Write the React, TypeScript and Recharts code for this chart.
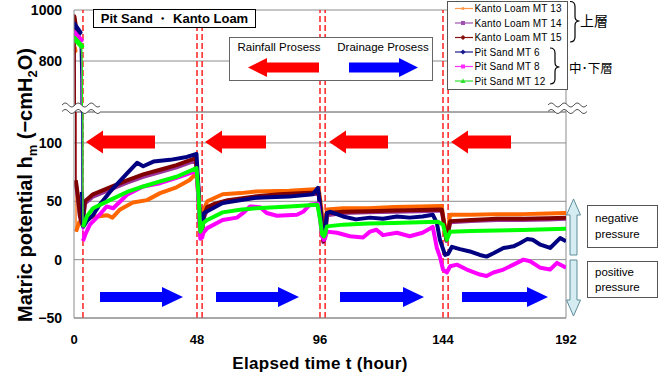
import React from 'react';
import { LineChart, Line, XAxis, YAxis, CartesianGrid, ReferenceLine } from 'recharts';

type Pt = [number, number];

const timeTicks = [0, 48, 96, 144, 192];
const upperTicks = [800, 1000];
const lowerTicks = [-50, 0, 50, 100];
const boundaryTimes = [3.5, 48, 50, 96, 98, 144, 146];

const seriesNames = ['Kanto Loam MT 13', 'Kanto Loam MT 14', 'Kanto Loam MT 15', 'Pit Sand MT 6', 'Pit Sand MT 8', 'Pit Sand MT 12'];
const seriesColors = ['#FF6600', '#993399', '#800000', '#000080', '#FF00FF', '#00FF00'];
const legendColors = ['#FF9A4D', '#A050B0', '#8B1010', '#1A1A90', '#FF30FF', '#30E030'];

const mt13: Pt[] = [[0,855],[0.4,840],[0.8,24],[2,32],[3.5,34],[5,36],[9,37],[13,38],[15,36],[18,43],[23,49],[28.5,51],[33.6,57],[40,62],[45,68],[47.8,74],[48.6,52],[49.3,27],[50,30],[50.5,42],[52,50],[58,56],[65,57],[71,58.4],[84,59],[95.5,60.5],[96.5,44],[97.3,22],[98,24],[98.7,43],[105,44],[115,44],[125,45],[135,45.5],[143.5,46],[144.5,30],[145.3,23],[146,28],[146.8,38.5],[155,38.5],[165,39],[175,39],[185,39.5],[192,40]];
const mt14: Pt[] = [[0,962],[0.4,935],[0.7,66],[1.5,53],[2.3,37],[3.1,30],[3.6,35],[4.3,48],[7.4,54],[14,60],[20.7,66],[27,71],[33.6,75],[40,79],[47.5,85],[48.5,60],[49.3,21],[50,24],[50.7,36],[52,43],[55,47],[60,50],[70,53],[80,55],[90,56],[95.5,56.5],[96.5,38],[97.3,15],[98,19],[98.7,38],[105,40],[115,40.5],[125,41],[135,41.5],[143.5,42],[144.5,29],[145.3,16],[146,23],[146.8,32],[155,33],[165,34],[175,34],[185,34.5],[192,35]];
const mt15: Pt[] = [[0,973],[0.4,945],[0.7,68],[1.5,55],[2.3,38],[3.1,31],[3.6,36],[4.3,50],[7.4,56],[14,62],[20.7,68],[27,73],[33.6,77],[40,81],[47.5,87],[48.5,62],[49.3,22],[50,25],[50.7,38],[52,45],[55,48],[60,51],[70,54],[80,56],[90,57],[95.5,57.5],[96.5,40],[97.3,16],[98,20],[98.7,40],[105,41],[115,41.5],[125,42],[135,42.5],[143.5,43],[144.5,30],[145.3,17],[146,24],[146.8,33],[155,34],[165,35],[175,35],[185,35.5],[192,36]];
const mt6: Pt[] = [[0,945],[2.3,912],[2.7,730],[3.1,58],[3.6,28],[5,33],[7.4,38],[10,47],[14,58],[20.7,74],[24.6,83],[27,80],[31,84],[37.5,85.5],[44,88],[47.8,90.5],[48.6,60],[49.3,24],[50,28],[50.7,40],[52,41.5],[58,48.5],[71,53],[84,54],[93.2,56],[95.2,61.5],[96,45],[96.8,22],[97.3,18],[98,25],[98.7,40],[100,41],[105,37],[110,34.5],[115.5,36],[120.6,35],[126,37],[131,36],[136,37],[140,38.5],[141.6,31.5],[142.8,17],[144.8,4],[146,5],[147.5,11],[150.6,9],[154.5,7],[158.4,4],[161,2.6],[163.7,5.5],[167.6,10],[171.5,11.4],[174,14],[176.8,17.6],[179,17],[182,12.8],[185.8,10],[189.7,18.5],[192,15.7]];
const mt8: Pt[] = [[0,912],[2.8,882],[3.0,812],[3.5,16],[4.5,22],[6.2,30],[10,38.5],[12.7,45.6],[15.3,44],[20.7,55.6],[27,62.7],[33.6,65.5],[40,70],[47.8,76],[48.6,50],[49.3,18],[50,19],[50.5,23],[52,27],[58,34],[63.6,36],[66,40],[68.7,45.6],[72.6,45],[75.2,40],[79.2,37.6],[87,38.5],[89.4,41],[92,47],[95.2,48],[96,35],[96.8,20],[97.5,17],[98,19],[98.7,24],[102.6,23],[107.7,20],[112.8,19],[115.5,24],[118,25.6],[120.6,21],[126,23],[131,20],[136,23],[140,28],[141.6,10],[142.8,2.6],[144,-8.5],[145.5,-11],[146.8,-5.7],[149.4,-4.3],[153.3,-8.5],[158.4,-12.8],[161,-14],[163.7,-11],[167.6,-8.5],[171.5,-4.3],[175.4,0],[178,-1.4],[182,-7],[185.8,-8.5],[188.5,-2.8],[191,-5.7],[192,-7]];
const mt12: Pt[] = [[0,890],[3.0,858],[3.2,784],[3.5,28],[5,37],[7.4,44],[14,51],[20.7,58],[27,62.7],[33.6,67],[40,71],[47.8,78.4],[48.6,55],[49.3,24],[50,27],[50.5,31.6],[52,34],[58,40.5],[64.8,42.7],[71,44],[84,45.6],[95,47],[96,35],[96.8,22],[97.5,20],[98,22],[98.7,28.5],[105,30],[115,31],[125,31.5],[135,32],[142,32.5],[144,30],[145.5,17],[146.8,24],[155,24.5],[165,25],[175,25.5],[185,26],[192,26.5]];

const seriesPoints = [mt13, mt14, mt15, mt6, mt8, mt12];
const toRows = (pts: Pt[]) => pts.map(([t, v]) => ({ t, v }));
const series = seriesPoints.map((pts, i) => ({
  name: seriesNames[i],
  color: seriesColors[i],
  data: toRows(pts),
  // dense-marker bands: the in-range low part and the initial high cluster
  low: toRows(pts.filter(([, v]) => v < 130)),
  high: toRows(pts.filter(([, v]) => v >= 840)),
}));

const FONT = '"Liberation Sans", Arial, Helvetica, sans-serif';
const CJK = '"Noto Sans CJK JP", "Noto Sans", sans-serif';
const GRID = '#8C8C8C';

const tickStyle = { fill: '#000', fontSize: 14, fontWeight: 'bold' as const, fontFamily: FONT };

function lines() {
  const out: React.ReactNode[] = [];
  series.forEach((s) => {
    out.push(
      <Line key={s.name + '-thin'} data={s.data} dataKey="v" type="linear" stroke={s.color} strokeWidth={1.3}
        dot={false} activeDot={false} isAnimationActive={false} />
    );
    out.push(
      <Line key={s.name + '-low'} data={s.low} dataKey="v" name={s.name} type="linear" stroke={s.color} strokeWidth={4}
        strokeLinejoin="round" dot={false} activeDot={false} isAnimationActive={false} />
    );
    out.push(
      <Line key={s.name + '-high'} data={s.high} dataKey="v" type="linear" stroke={s.color} strokeWidth={5}
        strokeLinejoin="round" strokeLinecap="round" dot={false} activeDot={false} isAnimationActive={false} />
    );
  });
  return out;
}

function refLines() {
  return [
    ...boundaryTimes.map((t) => (
      <ReferenceLine key={'b' + t} x={t} stroke="#FF2020" strokeDasharray="6 3" strokeWidth={1.5} />
    )),
    <ReferenceLine key="right" x={192} stroke={GRID} strokeWidth={1} />,
  ];
}

function hArrow(x1: number, x2: number, cy: number, s: number, h: number, hl: number, dir: 'left' | 'right') {
  if (dir === 'right') {
    return [
      [x1, cy - s / 2], [x2 - hl, cy - s / 2], [x2 - hl, cy - h / 2], [x2, cy],
      [x2 - hl, cy + h / 2], [x2 - hl, cy + s / 2], [x1, cy + s / 2],
    ].map((p) => p.join(',')).join(' ');
  }
  return [
    [x2, cy - s / 2], [x1 + hl, cy - s / 2], [x1 + hl, cy - h / 2], [x1, cy],
    [x1 + hl, cy + h / 2], [x1 + hl, cy + s / 2], [x2, cy + s / 2],
  ].map((p) => p.join(',')).join(' ');
}

function vArrow(cx: number, y1: number, y2: number, s: number, w: number, hl: number, dir: 'up' | 'down') {
  const pts = dir === 'up'
    ? [[cx, y1], [cx + w / 2, y1 + hl], [cx + s / 2, y1 + hl], [cx + s / 2, y2], [cx - s / 2, y2], [cx - s / 2, y1 + hl], [cx - w / 2, y1 + hl]]
    : [[cx, y2], [cx + w / 2, y2 - hl], [cx + s / 2, y2 - hl], [cx + s / 2, y1], [cx - s / 2, y1], [cx - s / 2, y2 - hl], [cx - w / 2, y2 - hl]];
  return pts.map((p) => p.join(',')).join(' ');
}

function wavePts(x0: number, x1: number, y: number, amp: number, period: number) {
  const out: string[] = [];
  for (let x = x0; x <= x1; x += 1) {
    out.push(`${x},${(y - amp * Math.sin((2 * Math.PI * (x - x0)) / period)).toFixed(2)}`);
  }
  return out;
}

function BreakMark({ x0, x1 }: { x0: number; x1: number }) {
  const top = wavePts(x0, x1, 105, 2, 13);
  const bot = wavePts(x0, x1, 111.5, 2, 13);
  return (
    <g>
      <polygon points={[...top, ...bot.slice().reverse()].join(' ')} fill="#fff" />
      <polyline points={top.join(' ')} fill="none" stroke="#555" strokeWidth={1} />
      <polyline points={bot.join(' ')} fill="none" stroke="#555" strokeWidth={1} />
    </g>
  );
}

const legendRows = [8.5, 23, 37.5, 52, 66.5, 81];

function LegendMarker({ i, x, y }: { i: number; x: number; y: number }) {
  const c = legendColors[i];
  if (i === 0) return <circle cx={x} cy={y} r={1.6} fill={c} />;
  if (i === 1 || i === 4) return <rect x={x - 2} y={y - 2} width={4} height={4} fill={c} />;
  if (i === 2 || i === 3) return <polygon points={`${x},${y - 2.6} ${x + 2.6},${y} ${x},${y + 2.6} ${x - 2.6},${y}`} fill={c} />;
  return <polygon points={`${x},${y - 2.6} ${x + 2.6},${y + 2} ${x - 2.6},${y + 2}`} fill={c} />;
}

function Overlay() {
  const redArrows: [number, number][] = [[86, 155], [205, 266], [329, 388], [451, 511]];
  const blueArrows: [number, number][] = [[100, 183], [216, 299], [340, 424], [462, 548]];
  return (
    <svg width={664} height={378} style={{ position: 'absolute', left: 0, top: 0, pointerEvents: 'none' }}>
      <BreakMark x0={62} x1={100} />
      <BreakMark x0={548} x1={587} />

      {redArrows.map(([a, b]) => (
        <polygon key={'r' + a} points={hArrow(a, b, 142, 13, 23, 17, 'left')} fill="#FF0000" />
      ))}
      {blueArrows.map(([a, b]) => (
        <polygon key={'bl' + a} points={hArrow(a, b, 297, 10, 20, 21, 'right')} fill="#0000FF" />
      ))}

      {/* title box */}
      <rect x={93.5} y={9.5} width={162} height={18} fill="#fff" stroke="#000" strokeWidth={1} />
      <text x={174.5} y={23} textAnchor="middle" fontFamily={FONT} fontSize={13} fontWeight="bold" fill="#000">
        Pit Sand ・ Kanto Loam
      </text>

      {/* process box */}
      <rect x={229.5} y={37.5} width={203} height={43} fill="#fff" stroke="#666" strokeWidth={1} />
      <text x={279} y={51} textAnchor="middle" fontFamily={FONT} fontSize={11.5} fill="#000">Rainfall Prosess</text>
      <text x={383} y={51} textAnchor="middle" fontFamily={FONT} fontSize={11.5} fill="#000">Drainage Prosess</text>
      <polygon points={hArrow(248, 319, 67.5, 10, 19, 19, 'left')} fill="#FF0000" />
      <polygon points={hArrow(349, 418, 67.5, 10, 19, 19, 'right')} fill="#0000FF" />

      {/* legend */}
      <rect x={447.5} y={1.5} width={120} height={88} fill="#fff" stroke="#555" strokeWidth={1} />
      {series.map((s, i) => (
        <g key={s.name}>
          <line x1={455} x2={473} y1={legendRows[i]} y2={legendRows[i]} stroke={legendColors[i]} strokeWidth={1.2} />
          <LegendMarker i={i} x={463} y={legendRows[i]} />
          <text x={474.5} y={legendRows[i] + 3.6} fontFamily={FONT} fontSize={10} letterSpacing={0.15} fill="#000">
            {s.name}
          </text>
        </g>
      ))}
      <path d="M570,1.5 Q575,1.5 575,6.5 L575,16.5 Q575,21 579.5,21 Q575,21 575,25.5 L575,37 Q575,42 570,42" fill="none" stroke="#000" strokeWidth={1.2} />
      <path d="M550,48 Q555,48 555,53 L555,62.5 Q555,67 559.5,67 Q555,67 555,71.5 L555,79 Q555,84 550,84" fill="none" stroke="#000" strokeWidth={1.2} />
      <text x={580} y={26} fontFamily={CJK} fontSize={14} fill="#000">上層</text>
      <text x={569} y={72.5} fontFamily={CJK} fontSize={12.5} fill="#000">中･下層</text>

      {/* pressure annotations */}
      <polygon points={vArrow(573.5, 199, 255, 7, 14, 16, 'up')} fill="#D4ECF2" stroke="#5F8D99" strokeWidth={1} />
      <polygon points={vArrow(573.5, 260, 316, 7, 14, 16, 'down')} fill="#D4ECF2" stroke="#5F8D99" strokeWidth={1} />
      <rect x={587.5} y={205.5} width={70} height={42} fill="#fff" stroke="#555" strokeWidth={1} />
      <text x={595} y={222} fontFamily={FONT} fontSize={11.5} fill="#000">negative</text>
      <text x={595} y={238} fontFamily={FONT} fontSize={11.5} fill="#000">pressure</text>
      <rect x={587.5} y={261.5} width={70} height={36} fill="#fff" stroke="#555" strokeWidth={1} />
      <text x={595} y={276} fontFamily={FONT} fontSize={11.5} fill="#000">positive</text>
      <text x={595} y={291} fontFamily={FONT} fontSize={11.5} fill="#000">pressure</text>

      {/* axis titles */}
      <text x={320} y={369} textAnchor="middle" fontFamily={FONT} fontSize={17} fontWeight="bold" letterSpacing={0.3} fill="#000">
        Elapsed time t (hour)
      </text>
      <text transform="translate(32,185) rotate(-90)" textAnchor="middle" fontFamily={FONT} fontSize={20} fontWeight="bold" fill="#000">
        Matric potential h<tspan dy={5} fontSize={13}>m</tspan>
        <tspan dy={-5}> (−cmH</tspan>
        <tspan dy={5} fontSize={13}>2</tspan>
        <tspan dy={-5}>O)</tspan>
      </text>
    </svg>
  );
}

export default function App() {
  return (
    <div style={{ position: 'absolute', left: 0, top: 0, width: 664, height: 378, background: '#fff', overflow: 'hidden' }}>
      <div style={{ position: 'absolute', left: 0, top: 0 }}>
        <LineChart width={664} height={113} margin={{ top: 10, right: 98, bottom: 1, left: 0 }}>
          <CartesianGrid vertical={false} stroke={GRID} />
          <XAxis type="number" dataKey="t" domain={[0, 192]} ticks={timeTicks} allowDataOverflow hide />
          <YAxis
            type="number"
            domain={[600, 1000]}
            ticks={upperTicks}
            allowDataOverflow
            width={74}
            axisLine={{ stroke: GRID }}
            tickLine={false}
            tickMargin={6}
            tick={tickStyle}
          />
          {refLines()}
          {lines()}
        </LineChart>
      </div>
      <div style={{ position: 'absolute', left: 0, top: 0 }}>
        <LineChart width={664} height={378} margin={{ top: 112, right: 98, bottom: 29, left: 0 }}>
          <CartesianGrid vertical={false} stroke={GRID} />
          <XAxis
            type="number"
            dataKey="t"
            domain={[0, 192]}
            ticks={timeTicks}
            allowDataOverflow
            height={31}
            axisLine={{ stroke: GRID }}
            tickLine={false}
            tickMargin={11}
            tick={{ ...tickStyle, fontSize: 13 }}
          />
          <YAxis
            type="number"
            domain={[-50, 126.5]}
            ticks={lowerTicks}
            allowDataOverflow
            width={74}
            axisLine={{ stroke: GRID }}
            tickLine={false}
            tickMargin={6}
            tick={tickStyle}
            tickFormatter={(v: number) => String(v).replace('-', '−')}
          />
          {refLines()}
          {lines()}
        </LineChart>
      </div>
      <Overlay />
    </div>
  );
}
